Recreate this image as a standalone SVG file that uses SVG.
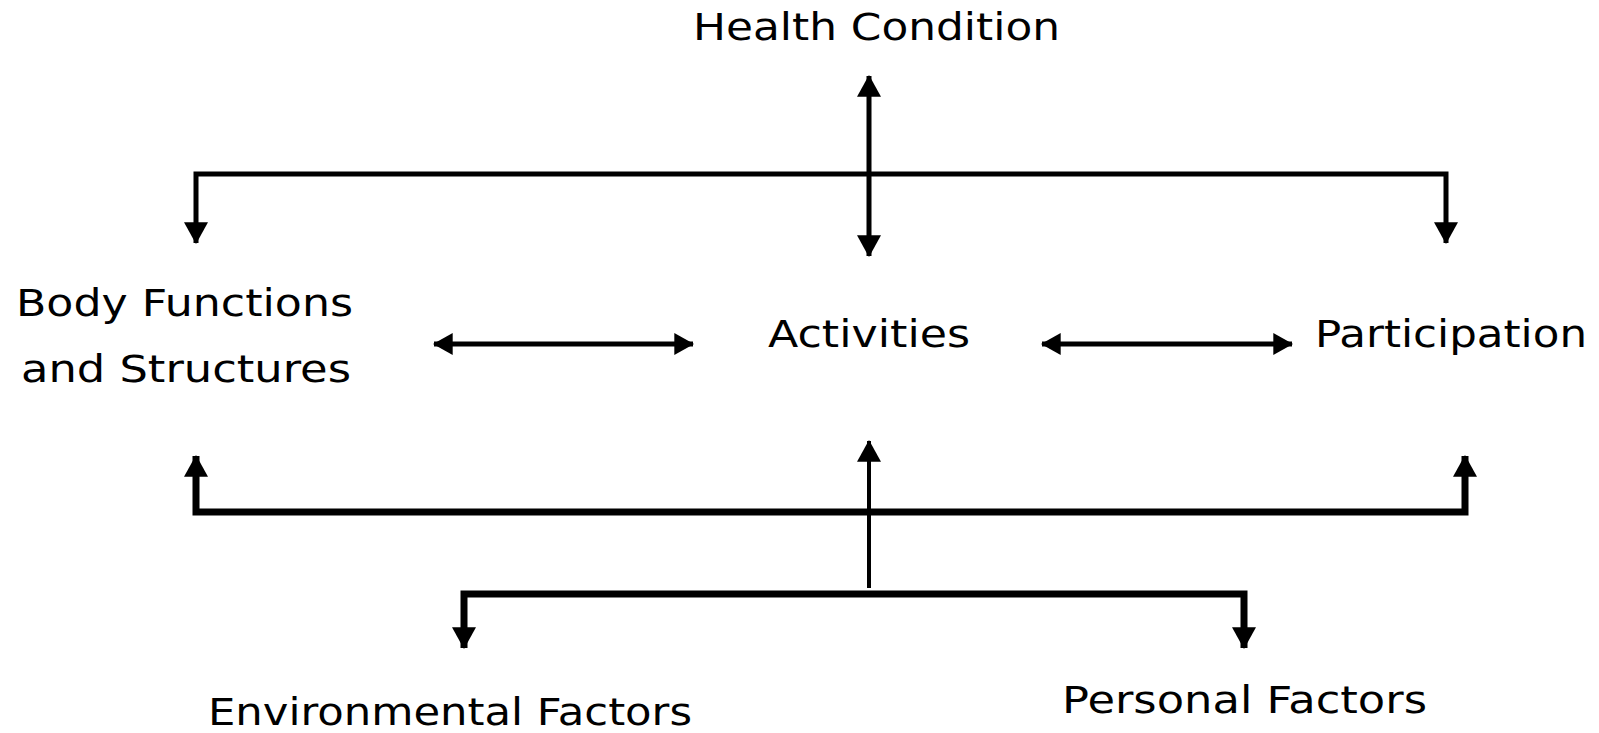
<svg xmlns="http://www.w3.org/2000/svg" width="1599" height="733" viewBox="0 0 1599 733">
<defs>
<style>
.t{font-family:"DejaVu Sans","Verdana",sans-serif;font-size:37px;fill:#000}
.c{fill:none;stroke:#000;stroke-linecap:butt;stroke-linejoin:miter}
</style>
<marker id="ah" markerUnits="userSpaceOnUse" markerWidth="24" markerHeight="24" viewBox="0 0 20 22" refX="19" refY="11" orient="auto-start-reverse">
<path d="M0,0 L20,11 L0,22 Z" fill="#000"/>
</marker>
<marker id="ahs" markerUnits="userSpaceOnUse" markerWidth="20" markerHeight="22" viewBox="0 0 18 20" refX="17" refY="10" orient="auto-start-reverse">
<path d="M0,0 L18,10 L0,20 Z" fill="#000"/>
</marker>
</defs>
<rect width="1599" height="733" fill="#fff"/>
<g id="connectors">
<path class="c" stroke-width="5" d="M196,243 V174 H1446 V243" marker-start="url(#ah)" marker-end="url(#ah)"/>
<path class="c" stroke-width="5" d="M869,76 V256" marker-start="url(#ah)" marker-end="url(#ah)"/>
<path class="c" stroke-width="5" d="M434,344 H693" marker-start="url(#ahs)" marker-end="url(#ahs)"/>
<path class="c" stroke-width="5" d="M1042,344 H1292" marker-start="url(#ahs)" marker-end="url(#ahs)"/>
<path class="c" stroke-width="7" d="M196,456 V512 H1465 V456" marker-start="url(#ah)" marker-end="url(#ah)"/>
<path class="c" stroke-width="4" d="M869,588 V441" marker-end="url(#ah)"/>
<path class="c" stroke-width="7" d="M464,648 V594 H1244 V648" marker-start="url(#ah)" marker-end="url(#ah)"/>
</g>
<g id="health-condition"><text class="t" x="693" y="40" textLength="367" lengthAdjust="spacingAndGlyphs">Health Condition</text></g>
<g id="body-functions">
<text class="t" x="16" y="316" textLength="337" lengthAdjust="spacingAndGlyphs">Body Functions</text>
<text class="t" x="21" y="382" textLength="330" lengthAdjust="spacingAndGlyphs">and Structures</text>
</g>
<g id="activities"><text class="t" x="768" y="347" textLength="202" lengthAdjust="spacingAndGlyphs">Activities</text></g>
<g id="participation"><text class="t" x="1315" y="347" textLength="272" lengthAdjust="spacingAndGlyphs">Participation</text></g>
<g id="environmental-factors"><text class="t" x="208" y="725" textLength="484" lengthAdjust="spacingAndGlyphs">Environmental Factors</text></g>
<g id="personal-factors"><text class="t" x="1062" y="713" textLength="365" lengthAdjust="spacingAndGlyphs">Personal Factors</text></g>
</svg>
